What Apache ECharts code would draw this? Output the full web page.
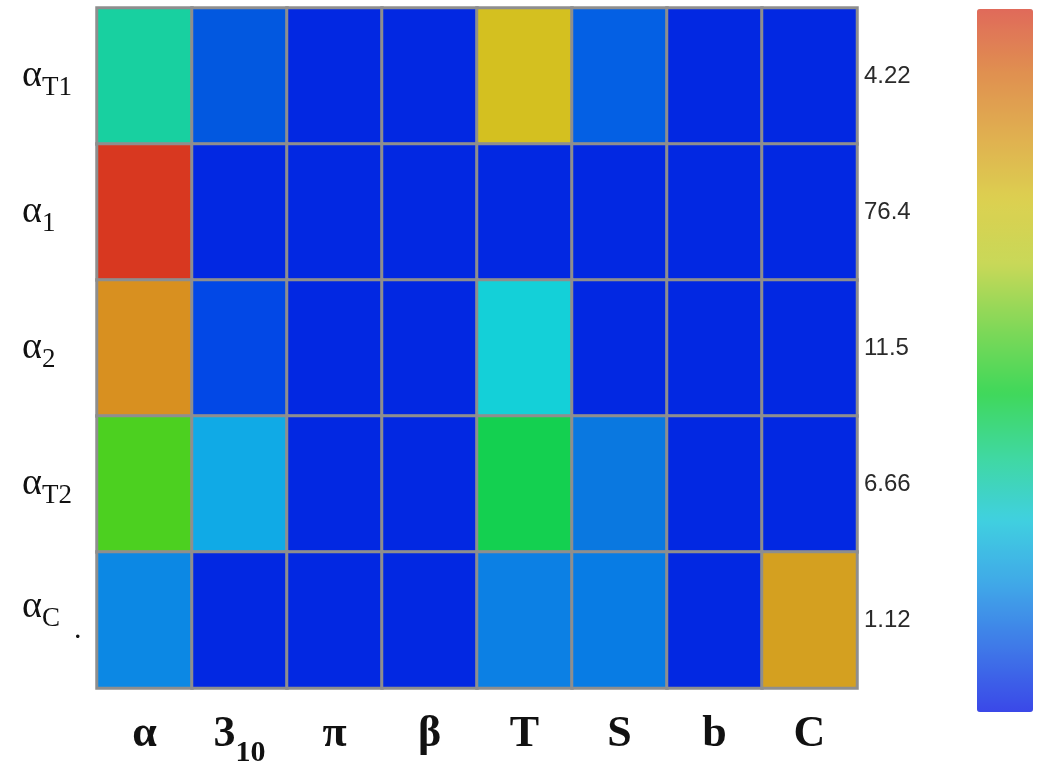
<!DOCTYPE html>
<html>
<head>
<meta charset="utf-8">
<style>html,body{margin:0;padding:0;background:#fff}#c{width:1043px;height:761px}</style>
<script src="https://cdn.jsdelivr.net/npm/echarts@6/dist/echarts.min.js"></script>
</head>
<body>
<div id="c"></div>
<script>
// Rows (top to bottom) and columns
const rowNames = ['αT1', 'α1', 'α2', 'αT2', 'αC'];
const rowRich = ['{m|α}{s|T1}', '{m|α}{s|1}', '{m|α}{s|2}', '{m|α}{s|T2}', '{mc|α}{sc|C}{d|.}'];
const colNames = ['α', '3₁₀', 'π', 'β', 'T', 'S', 'b', 'C'];
const colRich = ['{m|α}', '{m|3}{s|10}', '{m|π}', '{m|β}', '{m|T}', '{m|S}', '{m|b}', '{m|C}'];
const rightLabels = ['4.22', '76.4', '11.5', '6.66', '1.12'];

// Cell levels on the colour scale (0 = deep blue ... 16 = red)
const rowAT1 = [10, 2, 0, 0, 13, 3, 0, 0];
const rowA1  = [16, 0, 0, 0, 0, 0, 0, 0];
const rowA2  = [15, 1, 0, 0, 9, 0, 0, 0];
const rowAT2 = [12, 8, 0, 0, 11, 4, 0, 0];
const rowAC  = [7, 0, 0, 0, 6, 5, 0, 14];
const rows = [rowAT1, rowA1, rowA2, rowAT2, rowAC];

// Colour scale of the cells
const cellColors = ['#0228e2', '#0248e6', '#0258e0', '#0460e4', '#0a78e0', '#087ce4', '#0c80e4', '#0c88e4',
  '#10aae6', '#14d0d8', '#18d0a0', '#14d050', '#4cd020', '#d4c020', '#d4a020', '#d89020', '#d83820'];
// Colour bar (bottom to top)
const barColors = ['#3a48e8', '#3f78e8', '#40a8e8', '#40d0e0', '#40d8a0', '#40d85a', '#80d858', '#c8d858',
  '#dcd050', '#e0b050', '#e09050', '#e06a5a'];

const data = [];
rows.forEach((r, i) => r.forEach((v, j) => data.push([j, i, v])));

const chart = echarts.init(document.getElementById('c'));
const serif = 'Liberation Serif';
chart.setOption({
  animation: false,
  grid: { left: 97, right: 186, top: 8, bottom: 73, outerBoundsMode: 'none', containLabel: false },
  xAxis: {
    type: 'category', data: colNames, position: 'bottom',
    axisLine: { show: false }, axisTick: { show: false }, splitLine: { show: false },
    axisLabel: {
      margin: 32,
      formatter: (v, i) => colRich[i],
      rich: {
        m: { fontFamily: serif, fontWeight: 'bold', fontSize: 44, lineHeight: 50, color: '#111', padding: [0, 0, 20, 0] },
        s: { fontFamily: serif, fontWeight: 'bold', fontSize: 30, lineHeight: 50, color: '#111', padding: [18, 0, 2, 0] }
      }
    }
  },
  yAxis: [{
    type: 'category', data: rowNames, inverse: true,
    axisLine: { show: false }, axisTick: { show: false }, splitLine: { show: false },
    axisLabel: {
      align: 'left', margin: 75,
      formatter: (v, i) => rowRich[i],
      rich: {
        m: { fontFamily: serif, fontSize: 38, lineHeight: 40, color: '#111', padding: [15, 0, 15, 0] },
        s: { fontFamily: serif, fontSize: 27, lineHeight: 40, color: '#111', padding: [27, 0, 3, 0] },
        mc: { fontFamily: serif, fontSize: 38, lineHeight: 40, color: '#111', padding: [11, 0, 37, 0] },
        sc: { fontFamily: serif, fontSize: 27, lineHeight: 40, color: '#111', padding: [23, 0, 25, 0] },
        d: { fontFamily: serif, fontSize: 30, lineHeight: 40, color: '#111', padding: [34, 0, 14, 14] }
      }
    }
  }, {
    type: 'category', data: rightLabels, inverse: true, position: 'right',
    axisLine: { show: false }, axisTick: { show: false }, splitLine: { show: false },
    axisLabel: { margin: 7, fontFamily: 'Liberation Sans', fontSize: 24, color: '#2a2a2a' }
  }],
  visualMap: [{
    type: 'continuous', show: false, seriesIndex: 0, dimension: 2,
    min: 0, max: 16, inRange: { color: cellColors }
  }, {
    type: 'continuous', show: true, seriesIndex: 1, min: 0, max: 1,
    calculable: false, padding: 0, left: 977, top: 9,
    itemWidth: 56, itemHeight: 703, text: null, hoverLink: false,
    inRange: { color: barColors }
  }],
  series: [{
    type: 'heatmap', data: data,
    itemStyle: { borderColor: '#8e8e8e', borderWidth: 3 },
    emphasis: { disabled: true }
  }, {
    type: 'heatmap', data: [], yAxisIndex: 0
  }]
});
</script>
</body>
</html>
